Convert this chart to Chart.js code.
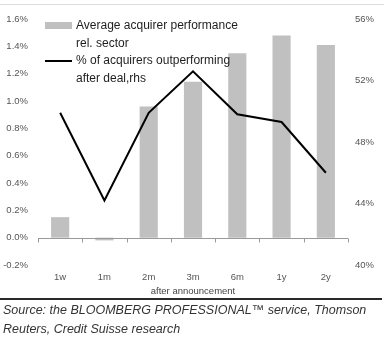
<!DOCTYPE html>
<html>
<head>
<meta charset="utf-8">
<script src="https://cdn.jsdelivr.net/npm/chart.js@4/dist/chart.umd.min.js"></script>
<style>
  html, body { margin: 0; padding: 0; background: #fff; width: 387px; height: 341px; overflow: hidden; }
  #topRule { position: absolute; left: 0; top: 4px; width: 384px; height: 1px; background: #dcdcdc; }
  #wrap { position: absolute; left: 0; top: 0; width: 387px; height: 300px; }
  #bottomRule { position: absolute; left: 0; top: 298px; width: 382px; height: 2px; background: #2a2a2a; }
  #source { position: absolute; left: 3px; top: 301px; font: italic 12.5px 'Liberation Sans', Arial, sans-serif; color: #333; line-height: 19px; white-space: nowrap; }
</style>
</head>
<body>
<div id="topRule"></div>
<div id="wrap"><canvas id="chart" width="387" height="300"></canvas></div>
<div id="bottomRule"></div>
<div id="source">Source: the BLOOMBERG PROFESSIONAL™ service, Thomson<br>Reuters, Credit Suisse research</div>
<script>
// Horizons after the deal announcement
const periods = ['1w', '1m', '2m', '3m', '6m', '1y', '2y'];
// Average acquirer performance relative to sector, % (left axis)
const avgPerformance = [0.15, -0.02, 0.96, 1.14, 1.35, 1.48, 1.41];
// Share of acquirers outperforming after the deal, % (right axis)
const pctOutperforming = [49.9, 44.2, 49.9, 52.6, 49.8, 49.3, 46.0];
// Axis ranges
const leftAxis = { min: -0.2, max: 1.6, step: 0.2 };
const rightAxis = { min: 40, max: 56, step: 4 };
// Legend wording, one entry per line
const barLegendLines = ['Average acquirer performance', 'rel. sector'];
const lineLegendLines = ['% of acquirers outperforming', 'after deal,rhs'];
const axisTitle = 'after announcement';

const FONT = "'Liberation Sans', Arial, sans-serif";
const BAR_COLOR = '#c0c0c0';
const LINE_COLOR = '#000000';

// Zero line with small category-boundary ticks hanging below it
const zeroAxis = {
  id: 'zeroAxis',
  afterDatasetsDraw(chart) {
    const { ctx, chartArea, scales } = chart;
    const y0 = Math.round(scales.y.getPixelForValue(0)) + 0.5;
    const x = scales.x;
    ctx.save();
    ctx.strokeStyle = '#9a9a9a';
    ctx.lineWidth = 1;
    ctx.beginPath();
    ctx.moveTo(chartArea.left, y0);
    ctx.lineTo(chartArea.right, y0);
    const n = chart.data.labels.length;
    const w = (chartArea.right - chartArea.left) / n;
    for (let i = 0; i <= n; i++) {
      const xi = Math.round(chartArea.left + i * w) + 0.5;
      ctx.moveTo(xi, y0);
      ctx.lineTo(xi, y0 + 4);
    }
    ctx.stroke();
    ctx.restore();
  }
};

// Two-entry legend with wrapped labels, placed inside the plot
const innerLegend = {
  id: 'innerLegend',
  afterDraw(chart) {
    const { ctx } = chart;
    const sx = 45, sw = 27, tx = 76, lh = 18;
    ctx.save();
    ctx.font = '12px ' + FONT;
    ctx.fillStyle = '#1e1e1e';
    ctx.textBaseline = 'middle';
    // bar entry
    const barDs = chart.data.datasets.find(d => d.type === 'bar');
    ctx.fillStyle = barDs.backgroundColor;
    ctx.fillRect(sx, 22, sw, 7);
    ctx.fillStyle = '#1e1e1e';
    barDs.label.forEach((t, i) => ctx.fillText(t, tx, 25.5 + i * lh));
    // line entry
    const lineDs = chart.data.datasets.find(d => d.type === 'line');
    ctx.strokeStyle = lineDs.borderColor;
    ctx.lineWidth = 2;
    ctx.beginPath();
    ctx.moveTo(sx, 61);
    ctx.lineTo(sx + sw, 61);
    ctx.stroke();
    lineDs.label.forEach((t, i) => ctx.fillText(t, tx, 61 + i * lh));
    ctx.restore();
  }
};

new Chart(document.getElementById('chart'), {
  data: {
    labels: periods,
    datasets: [
      {
        type: 'line',
        label: lineLegendLines,
        data: pctOutperforming,
        yAxisID: 'y1',
        borderColor: LINE_COLOR,
        borderWidth: 2,
        pointRadius: 0,
        tension: 0,
        order: 1
      },
      {
        type: 'bar',
        label: barLegendLines,
        data: avgPerformance,
        yAxisID: 'y',
        backgroundColor: BAR_COLOR,
        borderWidth: 0,
        categoryPercentage: 1,
        barPercentage: 0.41,
        order: 2
      }
    ]
  },
  options: {
    responsive: false,
    animation: false,
    layout: { padding: { top: 19, left: 0, right: 0, bottom: 0 } },
    plugins: { legend: { display: false }, tooltip: { enabled: false } },
    scales: {
      x: {
        grid: { display: false, drawTicks: false },
        border: { display: false },
        ticks: { color: '#555', font: { family: FONT, size: 9.5 }, padding: 7, maxRotation: 0 },
        title: { display: true, text: axisTitle, color: '#444', font: { family: FONT, size: 9.5 }, padding: { top: 0, bottom: 3 } },
        afterFit(s) { s.height = 35; }
      },
      y: {
        position: 'left',
        min: leftAxis.min, max: leftAxis.max,
        grid: { display: false, drawTicks: false },
        border: { display: false },
        ticks: {
          stepSize: leftAxis.step, color: '#555', padding: 10,
          font: { family: FONT, size: 9.5 },
          callback: v => v.toFixed(1) + '%'
        },
        afterFit(s) { s.width = 38; }
      },
      y1: {
        position: 'right',
        min: rightAxis.min, max: rightAxis.max,
        grid: { display: false, drawTicks: false },
        border: { display: false },
        ticks: {
          stepSize: rightAxis.step, color: '#555', padding: 7,
          font: { family: FONT, size: 9.5 },
          callback: v => Math.round(v) + '%'
        },
        afterFit(s) { s.width = 39; }
      }
    }
  },
  plugins: [zeroAxis, innerLegend]
});
</script>
</body>
</html>
